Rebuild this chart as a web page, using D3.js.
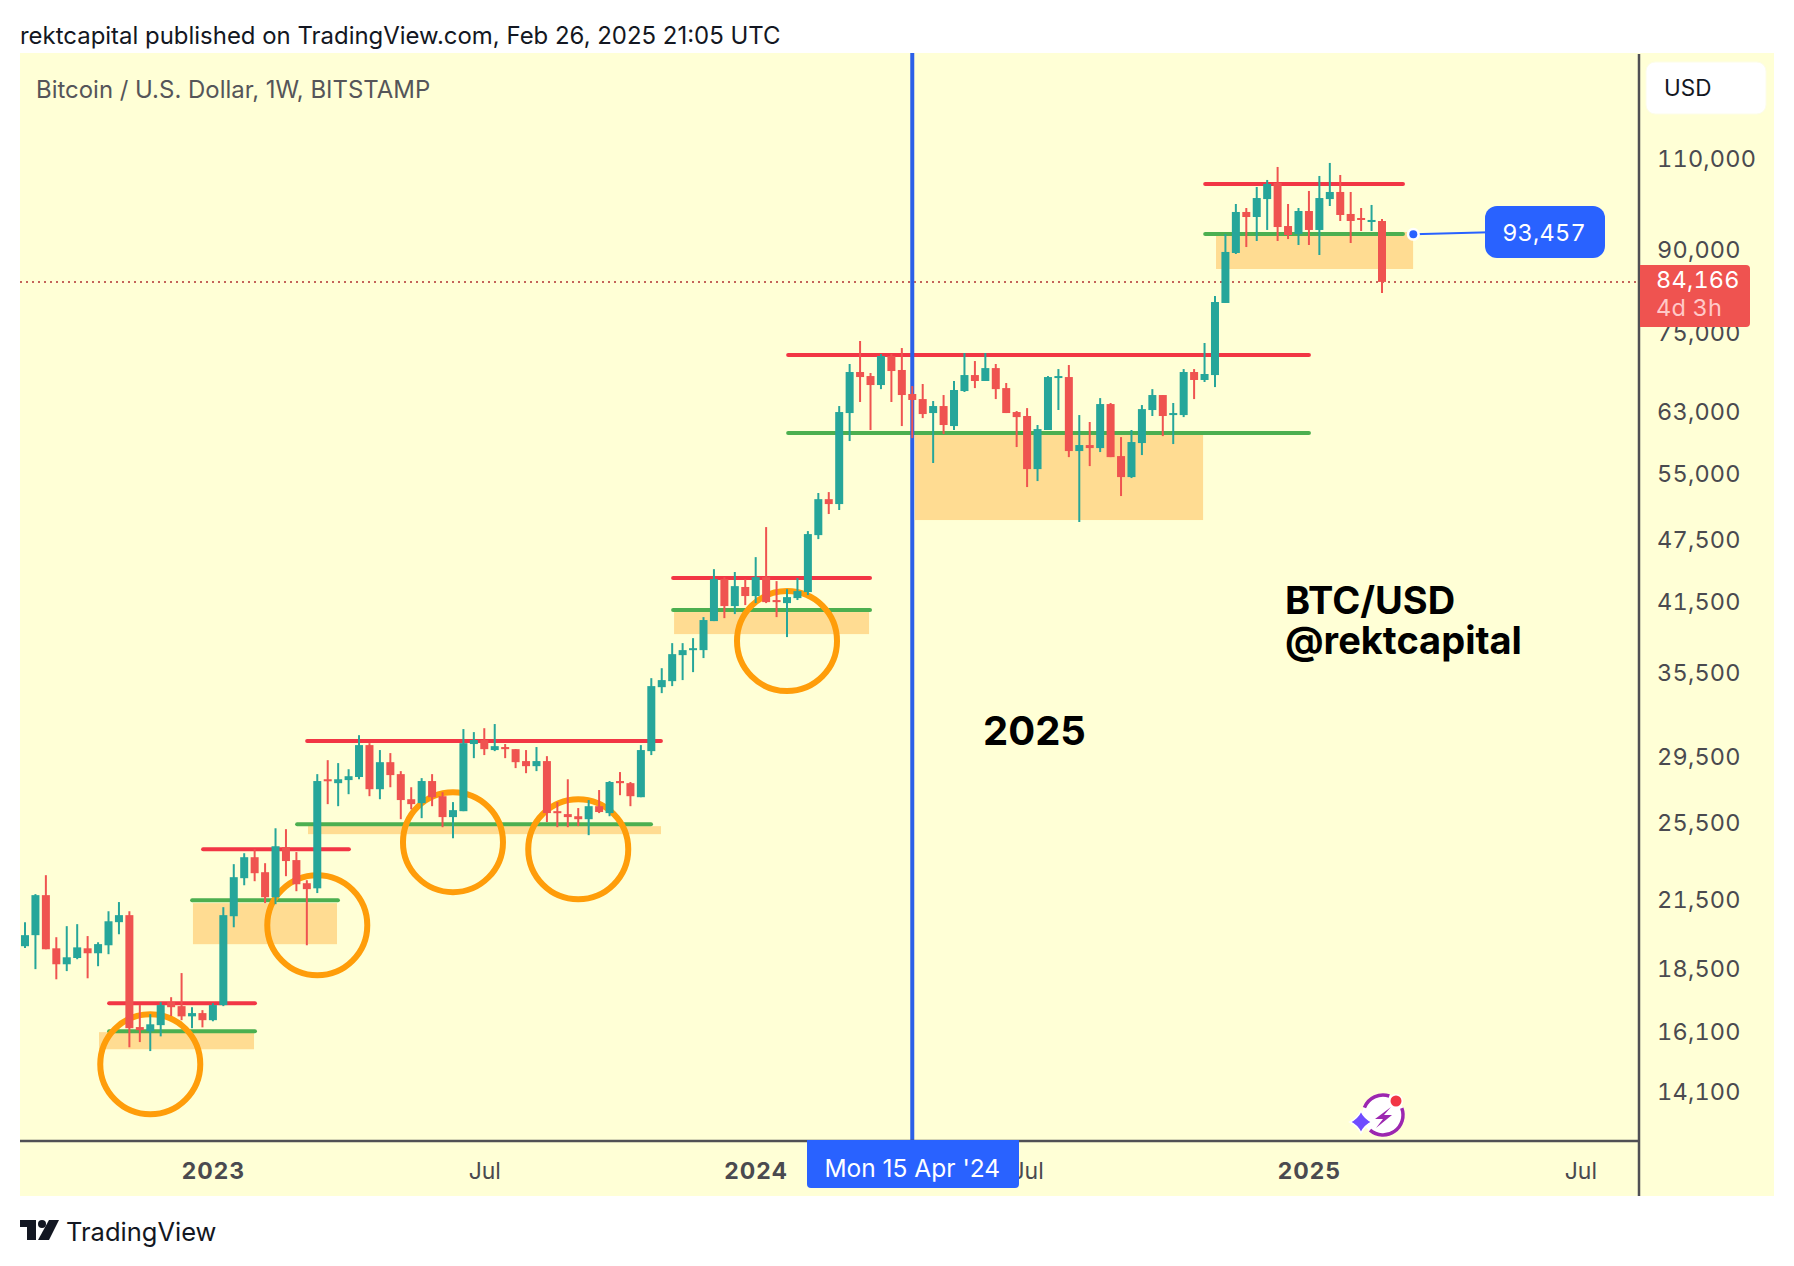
<!DOCTYPE html>
<html>
<head>
<meta charset="utf-8">
<script src="https://cdnjs.cloudflare.com/ajax/libs/d3/7.8.5/d3.min.js"></script>
<style>
html, body { margin: 0; padding: 0; background: #fff; }
svg { display: block; }
text { font-family: Inter, "Liberation Sans", sans-serif; }
.num { font-feature-settings: "tnum"; letter-spacing: 0.2px; }
</style>
</head>
<body>
<div id="chart"></div>
<script>
// weekly candles, BTC/USD, week 0 = 29 Aug 2022
var opens = [19500,19980,21820,19410,18740,19000,19410,19200,19540,20560,
20880,16320,16170,16390,17240,17090,16710,16830,16570,17130,
20830,22650,23720,22950,21720,24250,23570,22400,22150,28160,
27920,28110,28300,30360,27550,29240,28480,26950,26720,28050,
27130,25910,26250,30430,30700,30030,30230,30090,29310,28985,
29310,26250,26080,25960,25790,26540,26140,28050,27920,27070,
29960,34490,34950,37010,37420,37420,39890,43750,41230,43000,
42150,43940,41780,41500,41960,42520,48200,52170,51610,63060,
69020,68410,67070,71490,69330,65760,65030,63060,64040,61280,
66190,68560,67670,69620,66620,63200,62650,55740,60750,68110,
68260,58000,58770,58380,64320,57360,54770,59030,63480,65610,
62780,62780,69020,67820,68560,80350,89700,98170,97090,101000,
104640,95180,93530,98380,94360,101000,102590,97740,96880,96030,
96240];
var highs = [20560,21870,22800,19890,20380,20470,19940,19670,21060,21490,
21060,17130,16790,17240,17430,18380,17050,16940,17200,21250,
23360,23930,24140,23410,25280,25230,23990,22550,28480,29370,
29180,28790,31030,30490,30030,29830,28670,27670,28230,28480,
27370,26780,31450,31240,31510,31800,30430,30090,30030,30230,
29630,26780,28160,26430,26900,27500,28050,28610,27990,30360,
35180,35960,38000,38000,38420,40240,44720,43940,44440,43750,
45920,49060,43560,42790,43850,48630,52880,52990,64040,70250,
73900,68870,71810,71810,72760,66920,67220,64750,65610,67670,
71970,70710,71970,70250,67370,63340,63750,61420,68410,69470,
70090,62780,61830,65170,64470,59810,60750,64180,66470,65610,
64470,69470,69470,73570,81590,93530,99910,99030,103720,105340,
108400,99910,99030,102820,106270,109360,106500,102590,99030,99700,
96670];
var lows = [19420,18540,19370,18130,18460,18950,18170,18660,19160,20020,
15610,15790,15480,15990,16720,16570,16280,16310,16530,17090,
20330,22300,22500,21440,21390,22750,22010,19540,21920,26660,
26540,27250,28160,27130,26950,27670,25790,26360,25850,26540,
25340,24730,26250,29500,29700,29960,29500,28860,28540,28670,
25630,25340,25340,25400,24900,26140,25960,27190,26540,27070,
29700,34040,34570,35030,35650,36770,39890,40150,40510,41320,
41500,41500,40240,38510,41780,42240,47780,50490,50940,59290,
64610,60750,66470,64610,61280,59680,62360,56490,60210,60750,
66050,66620,67670,65030,63060,58510,53580,54290,60750,63480,
57230,49610,56110,57870,57230,52530,54650,57490,62650,59940,
58900,62500,65030,67520,66770,80350,89500,90880,92100,94360,
92100,92490,91290,91290,89300,99470,96240,91690,94150,94150,
82130];
var closes = [19980,21820,19370,18740,19030,19450,19200,19590,20600,20880,
16280,16210,16420,17130,17050,16710,16830,16570,17130,20880,
22700,23720,22900,21720,24300,23520,22350,22110,28050,28050,
28160,28350,30360,27550,29240,28420,26900,26660,28050,27070,
25910,26310,30490,30700,30090,30290,30090,29240,28985,29310,
26140,26140,25910,25790,26540,26200,27990,27920,27130,30030,
34570,35030,37090,37420,37580,39980,43750,41230,43080,42150,
43940,41590,41590,42050,42610,48310,52170,51610,63200,69020,
68260,67070,71490,69170,65610,64900,62920,64040,61420,66340,
68560,67670,69620,66470,63060,62500,55740,60870,68260,68410,
58000,58770,58380,64320,57230,54770,59160,63610,65610,62650,
63060,69020,67820,68720,80520,89900,98170,97090,101230,104410,
94970,93320,98380,94360,101230,102590,97520,96240,96460,96460,
84166];

var priceTicks = [110000,90000,75000,63000,55000,47500,41500,35500,29500,25500,21500,18500,16100,14100];
var timeTicks = [18,44,70,96,123,149];
var timeLabels = ["2023","Jul","2024","Jul","2025","Jul"];

// drawings, in week index and price
var redLevels = [[8.06,22.03,17200],[17.06,31.03,24140],[27.03,60.92,30630],[62.09,80.95,43850],[73.11,123.0,71650],[113.06,132.01,104410]];
var greenLevels = [[8.06,22.03,16170],[16.01,29.98,21581],[26.07,59.97,25511],[62.09,80.95,40868],[73.11,123.0,60345],[113.06,132.01,93527]];
var zones = [[7.09,21.94,16138,15542],[16.09,29.89,21439,19587],[27.11,60.93,25398,24955],[62.18,80.86,40688,38764],[85.26,112.86,60211,49826],[114.1,132.98,93942,86592]];
var circles = [[12,15040],[28,20424],[41,24520],[53,24141],[73,38172]];
var markedWeek = 85;
var lastPrice = 84166;
var targetPrice = 93457;
var targetWeek = 133;

var W = 1794, H = 1266;
var left = 20, top_ = 54, right = 1639, bottom = 1141, panelRight = 1774, panelBottom = 1196;

var svg = d3.select("#chart").append("svg").attr("width", W).attr("height", H);

var x = d3.scaleLinear().domain([0, 130]).range([25, 1382]);
var y = d3.scaleLog().domain([139000, 12700]).range([top_, bottom]);

svg.append("rect").attr("x", left).attr("y", top_ - 1).attr("width", panelRight - left).attr("height", panelBottom - top_ + 1)
    .attr("fill", "#ffffd6");

// header
svg.append("text").attr("x", 20).attr("y", 44).attr("font-size", 23.95).attr("fill", "#131722")
    .text("rektcapital published on TradingView.com, Feb 26, 2025 21:05 UTC");
svg.append("text").attr("x", 36).attr("y", 98).attr("font-size", 23.95).attr("fill", "#555559")
    .text("Bitcoin / U.S. Dollar, 1W, BITSTAMP");

// zones and levels
svg.append("g").selectAll("rect").data(zones).enter().append("rect")
    .attr("x", function(d) { return x(d[0]); })
    .attr("width", function(d) { return x(d[1]) - x(d[0]); })
    .attr("y", function(d) { return y(d[2]); })
    .attr("height", function(d) { return y(d[3]) - y(d[2]); })
    .attr("fill", "#ffdc92");

// last price line
svg.append("line").attr("x1", left).attr("x2", right).attr("y1", y(lastPrice)).attr("y2", y(lastPrice))
    .attr("stroke", "#c4645a").attr("stroke-width", 2).attr("stroke-dasharray", "2 4");

function drawLevels(data, color) {
    svg.append("g").selectAll("line").data(data).enter().append("line")
        .attr("x1", function(d) { return x(d[0]); })
        .attr("x2", function(d) { return x(d[1]); })
        .attr("y1", function(d) { return y(d[2]); })
        .attr("y2", function(d) { return y(d[2]); })
        .attr("stroke", color).attr("stroke-width", 4).attr("stroke-linecap", "round");
}
drawLevels(redLevels, "#f23645");
drawLevels(greenLevels, "#4caf50");

// vertical marker
svg.append("line").attr("x1", x(markedWeek)).attr("x2", x(markedWeek)).attr("y1", top_ - 1).attr("y2", bottom)
    .attr("stroke", "#2b5fe8").attr("stroke-width", 4);

// circles
svg.append("g").selectAll("circle").data(circles).enter().append("circle")
    .attr("cx", function(d) { return x(d[0]); })
    .attr("cy", function(d) { return y(d[1]); })
    .attr("r", 50).attr("fill", "none").attr("stroke", "#ff9d0a").attr("stroke-width", 6);

// candles
var candles = svg.append("g").selectAll("g").data(d3.range(opens.length)).enter().append("g");
function candleColor(i) { return closes[i] >= opens[i] ? "#26a69a" : "#ef5350"; }
candles.append("line")
    .attr("x1", function(i) { return x(i); })
    .attr("x2", function(i) { return x(i); })
    .attr("y1", function(i) { return y(highs[i]); })
    .attr("y2", function(i) { return y(lows[i]); })
    .attr("stroke", candleColor).attr("stroke-width", 2);
candles.append("rect")
    .attr("x", function(i) { return x(i) - 4; })
    .attr("width", 8)
    .attr("y", function(i) { return y(Math.max(opens[i], closes[i])); })
    .attr("height", function(i) { return Math.max(2, Math.abs(y(opens[i]) - y(closes[i]))); })
    .attr("fill", candleColor);

// axes
var yAxis = d3.axisRight(y).tickValues(priceTicks).tickFormat(d3.format(",")).tickSize(0).tickPadding(18);
var yG = svg.append("g").attr("transform", "translate(" + right + ",0)").call(yAxis);
yG.select(".domain").remove();
yG.selectAll("text").attr("class", "num").attr("font-size", 23.5).attr("fill", "#4a4a4f").attr("dy", "0.26em")
    .style("font-family", "Inter, sans-serif");

var xAxis = d3.axisBottom(x).tickValues(timeTicks)
    .tickFormat(function(d, i) { return timeLabels[i]; }).tickSize(0).tickPadding(22);
var xG = svg.append("g").attr("transform", "translate(0," + bottom + ")").call(xAxis);
xG.select(".domain").remove();
xG.selectAll("text").attr("font-size", 23).attr("fill", "#4a4a4f")
    .style("font-family", "Inter, sans-serif")
    .attr("font-weight", function(d, i) { return timeLabels[i] == "Jul" ? 400 : 700; })
    .style("letter-spacing", function(d, i) { return timeLabels[i] == "Jul" ? "0" : "1px"; });

svg.append("line").attr("x1", left).attr("x2", right).attr("y1", bottom).attr("y2", bottom)
    .attr("stroke", "#505054").attr("stroke-width", 2.5);
svg.append("line").attr("x1", right).attr("x2", right).attr("y1", top_).attr("y2", panelBottom)
    .attr("stroke", "#505054").attr("stroke-width", 2.5);

// USD box
svg.append("rect").attr("x", 1646).attr("y", 62).attr("width", 120).attr("height", 52).attr("rx", 9)
    .attr("fill", "#fff").attr("stroke", "#fdfde8").attr("stroke-width", 1);
svg.append("text").attr("x", 1664).attr("y", 96).attr("font-size", 22.5).attr("fill", "#131722").text("USD");

// last price tag
svg.append("path").attr("fill", "#ef5350").attr("d", "M1640,265H1746a4,4 0 0 1 4,4V323a4,4 0 0 1 -4,4H1640Z");
svg.append("text").attr("class", "num").attr("x", 1656).attr("y", 288).attr("font-size", 23.5).attr("fill", "#fff")
    .text(d3.format(",")(lastPrice));
svg.append("text").attr("class", "num").attr("x", 1656).attr("y", 316).attr("font-size", 23.5).attr("fill", "#ffc9c8")
    .text("4d 3h");

// price note
var noteX = x(targetWeek), noteY = y(targetPrice);
svg.append("line").attr("x1", noteX).attr("y1", noteY).attr("x2", 1490).attr("y2", noteY - 2)
    .attr("stroke", "#2962ff").attr("stroke-width", 2);
svg.append("circle").attr("cx", noteX).attr("cy", noteY).attr("r", 6.5).attr("fill", "#fff");
svg.append("circle").attr("cx", noteX).attr("cy", noteY).attr("r", 4).attr("fill", "#2962ff");
svg.append("rect").attr("x", 1485).attr("y", 206).attr("width", 120).attr("height", 52).attr("rx", 12).attr("fill", "#2962ff");
svg.append("text").attr("class", "num").attr("x", 1544).attr("y", 241).attr("text-anchor", "middle").attr("font-size", 23.5).attr("fill", "#fff")
    .text(d3.format(",")(targetPrice));

// date tag
svg.append("path").attr("fill", "#2962ff").attr("d", "M807,1140H1019V1184a4,4 0 0 1 -4,4H811a4,4 0 0 1 -4,-4Z");
svg.append("text").attr("x", x(markedWeek)).attr("y", 1177).attr("text-anchor", "middle").attr("font-size", 24.5).attr("fill", "#fff")
    .text("Mon 15 Apr '24");

// labels on the chart
svg.append("text").attr("x", 983).attr("y", 745).attr("font-size", 40).attr("font-weight", 700).attr("fill", "#000").text("2025");
svg.append("text").attr("x", 1285).attr("y", 614).attr("font-size", 38).attr("font-weight", 700).attr("fill", "#000").text("BTC/USD");
svg.append("text").attr("x", 1285).attr("y", 654).attr("font-size", 38).attr("font-weight", 700).attr("fill", "#000").text("@rektcapital");

// bolt badge
var badge = svg.append("g");
badge.append("circle").attr("cx", 1383).attr("cy", 1115).attr("r", 21).attr("fill", "#fff");
badge.append("path").attr("fill", "none").attr("stroke", "#9c27b0").attr("stroke-width", 3.5).attr("stroke-linecap", "round")
    .attr("d", d3.arc()({innerRadius: 20, outerRadius: 20, startAngle: 1.22, endAngle: 3.85}))
    .attr("transform", "translate(1383,1115)");
badge.append("path").attr("fill", "none").attr("stroke", "#9c27b0").attr("stroke-width", 3.5).attr("stroke-linecap", "round")
    .attr("d", d3.arc()({innerRadius: 20, outerRadius: 20, startAngle: -1.19, endAngle: 0.32}))
    .attr("transform", "translate(1383,1115)");
badge.append("path").attr("fill", "#9c27b0").attr("d", "M1391,1107L1375,1119H1383L1376,1128L1392,1115H1384Z");
badge.append("circle").attr("cx", 1396).attr("cy", 1101).attr("r", 7).attr("fill", "#fff");
badge.append("circle").attr("cx", 1396).attr("cy", 1101).attr("r", 5.5).attr("fill", "#f23645");
badge.append("path").attr("fill", "#6f4cff").attr("stroke", "#fff").attr("stroke-width", 1.5)
    .attr("d", "M1361,1111Q1364.5,1118.5 1372,1122Q1364.5,1125.5 1361,1133Q1357.5,1125.5 1350,1122Q1357.5,1118.5 1361,1111Z");

// TradingView logo
var logo = svg.append("g").attr("fill", "#131722");
logo.append("path").attr("d", "M20,1220H36V1240H27V1227H20Z");
logo.append("circle").attr("cx", 42).attr("cy", 1224).attr("r", 4);
logo.append("path").attr("d", "M49,1220H59L49,1240H38Z");
svg.append("text").attr("x", 66).attr("y", 1241).attr("font-size", 25.5).attr("fill", "#131722").text("TradingView");
</script>
</body>
</html>
